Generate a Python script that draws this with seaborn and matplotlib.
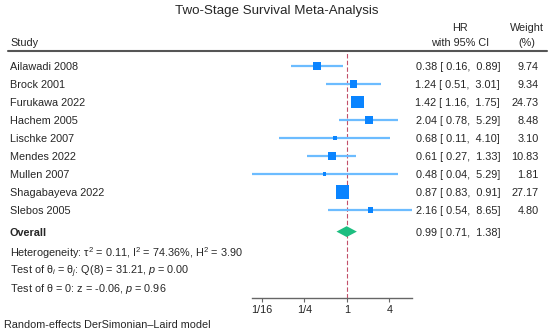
import numpy as np
import matplotlib
matplotlib.use("Agg")
import matplotlib.pyplot as plt
import matplotlib.transforms as mtransforms
from matplotlib.lines import Line2D
from matplotlib.ticker import FixedLocator, FixedFormatter, NullLocator
import seaborn as sns
import pandas as pd

# study-level data
studies = ["Ailawadi 2008", "Brock 2001", "Furukawa 2022", "Hachem 2005", "Lischke 2007",
           "Mendes 2022", "Mullen 2007", "Shagabayeva 2022", "Slebos 2005"]
hr = [0.38, 1.24, 1.42, 2.04, 0.68, 0.61, 0.48, 0.87, 2.16]
ci_low = [0.16, 0.51, 1.16, 0.78, 0.11, 0.27, 0.04, 0.83, 0.54]
ci_high = [0.89, 3.01, 1.75, 5.29, 4.10, 1.33, 5.29, 0.91, 8.65]
weights = [9.74, 9.34, 24.73, 8.48, 3.10, 10.83, 1.81, 27.17, 4.80]

overall_hr, overall_low, overall_high = 0.99, 0.71, 1.38
tick_values = [1 / 16, 1 / 4, 1, 4]
tick_labels = ["1/16", "1/4", "1", "4"]

sns.set_theme(style="white")
plt.rcParams["font.family"] = ["Liberation Sans", "DejaVu Sans"]
plt.rcParams["mathtext.fontset"] = "custom"
plt.rcParams["mathtext.rm"] = "Liberation Sans"
plt.rcParams["mathtext.it"] = "Liberation Sans:italic"

W, H = 550, 335
FS = 7.8
fig = plt.figure(figsize=(W / 100, H / 100), dpi=100)

def px(x):
    return x / W

# plot panel: rows are 18 px apart, first row at 66 px
ax_left, ax_right, ax_top, ax_bottom = 252, 412, 51, 298
row0, step = 66, 18
ax = fig.add_axes([px(ax_left), 1 - ax_bottom / H, (ax_right - ax_left) / W, (ax_bottom - ax_top) / H])

df = pd.DataFrame({"study": studies, "hr": hr, "lo": ci_low, "hi": ci_high, "w": weights})
df["row"] = np.arange(len(df))

ax.hlines(df["row"], df["lo"], df["hi"], color="#6cbcff", lw=1.6, zorder=2)
sns.scatterplot(data=df, x="hr", y="row", size="w", sizes=(3.5 * min(weights), 3.4 * max(weights)),
                marker="s", color="#0a84ff", linewidth=0, legend=False, ax=ax, zorder=3)

overall_row = 9.2
dh = 0.3
ax.fill([overall_low, overall_hr, overall_high, overall_hr],
        [overall_row, overall_row - dh, overall_row, overall_row + dh],
        color="#1dbe80", lw=0, zorder=3)

ax.axvline(1, color="#c2506a", ls=(0, (4, 2)), lw=0.8, zorder=1)

ax.set_xscale("log", base=2)
ax.set_xlim(2 ** -4.47, 2 ** 3.06)
ax.set_ylim((ax_bottom - row0) / step, (ax_top - row0) / step)
ax.xaxis.set_major_locator(FixedLocator(tick_values))
ax.xaxis.set_major_formatter(FixedFormatter(tick_labels))
ax.xaxis.set_minor_locator(NullLocator())
ax.set_yticks([])
ax.set_xlabel("")
ax.set_ylabel("")
for side in ["top", "left", "right"]:
    ax.spines[side].set_visible(False)
ax.spines["bottom"].set_color("#666666")
ax.spines["bottom"].set_linewidth(1.0)
ax.tick_params(axis="x", bottom=True, length=3, width=0.8, color="#666666",
               labelsize=FS, pad=2, labelcolor="#222222")
ax.patch.set_alpha(0)

# text columns: x in figure pixels, y in row units
tr = mtransforms.blended_transform_factory(fig.transFigure, ax.transData)
VA = "center_baseline"
for i, row in df.iterrows():
    ax.text(px(10), row["row"], row["study"], transform=tr, va=VA, ha="left", fontsize=FS)
    ax.text(px(500), row["row"], f"{row['hr']:.2f} [{row['lo']:5.2f}, {row['hi']:5.2f}]",
            transform=tr, va=VA, ha="right", fontsize=FS)
    ax.text(px(539), row["row"], f"{row['w']:.2f}", transform=tr, va=VA, ha="right", fontsize=FS)

ax.text(px(10), overall_row, "Overall", transform=tr, va=VA, ha="left", fontsize=FS, fontweight="bold")
ax.text(px(500), overall_row, f"{overall_hr:.2f} [{overall_low:5.2f}, {overall_high:5.2f}]",
        transform=tr, va=VA, ha="right", fontsize=FS)

ax.text(px(10), 10.28, "Heterogeneity: τ$^2$ = 0.11, I$^2$ = 74.36%, H$^2$ = 3.90",
        transform=tr, va=VA, ha="left", fontsize=FS)
ax.text(px(10), 11.28, r"Test of θ$_i$ = θ$_j$: Q(8) = 31.21, $p$ = 0.00",
        transform=tr, va=VA, ha="left", fontsize=FS)
ax.text(px(10), 12.28, r"Test of θ = 0: z = -0.06, $p$ = 0.96",
        transform=tr, va=VA, ha="left", fontsize=FS)

# header
fig.text(px(277), 1 - 11 / H, "Two-Stage Survival Meta-Analysis", ha="center", va="center", fontsize=9.6)
fig.text(px(10), 1 - 43 / H, "Study", ha="left", va="center", fontsize=FS)
fig.text(px(460), 1 - 28 / H, "HR", ha="center", va="center", fontsize=FS)
fig.text(px(460), 1 - 43 / H, "with 95% CI", ha="center", va="center", fontsize=FS)
fig.text(px(527), 1 - 28 / H, "Weight", ha="center", va="center", fontsize=FS)
fig.text(px(527), 1 - 43 / H, "(%)", ha="center", va="center", fontsize=FS)
fig.add_artist(Line2D([px(8), px(547)], [1 - 51 / H, 1 - 51 / H], color="#555555", lw=1.5))

fig.text(px(4), 1 - 325 / H, "Random-effects DerSimonian–Laird model", ha="left", va="center", fontsize=FS)

fig.savefig("out.png", dpi=100)
